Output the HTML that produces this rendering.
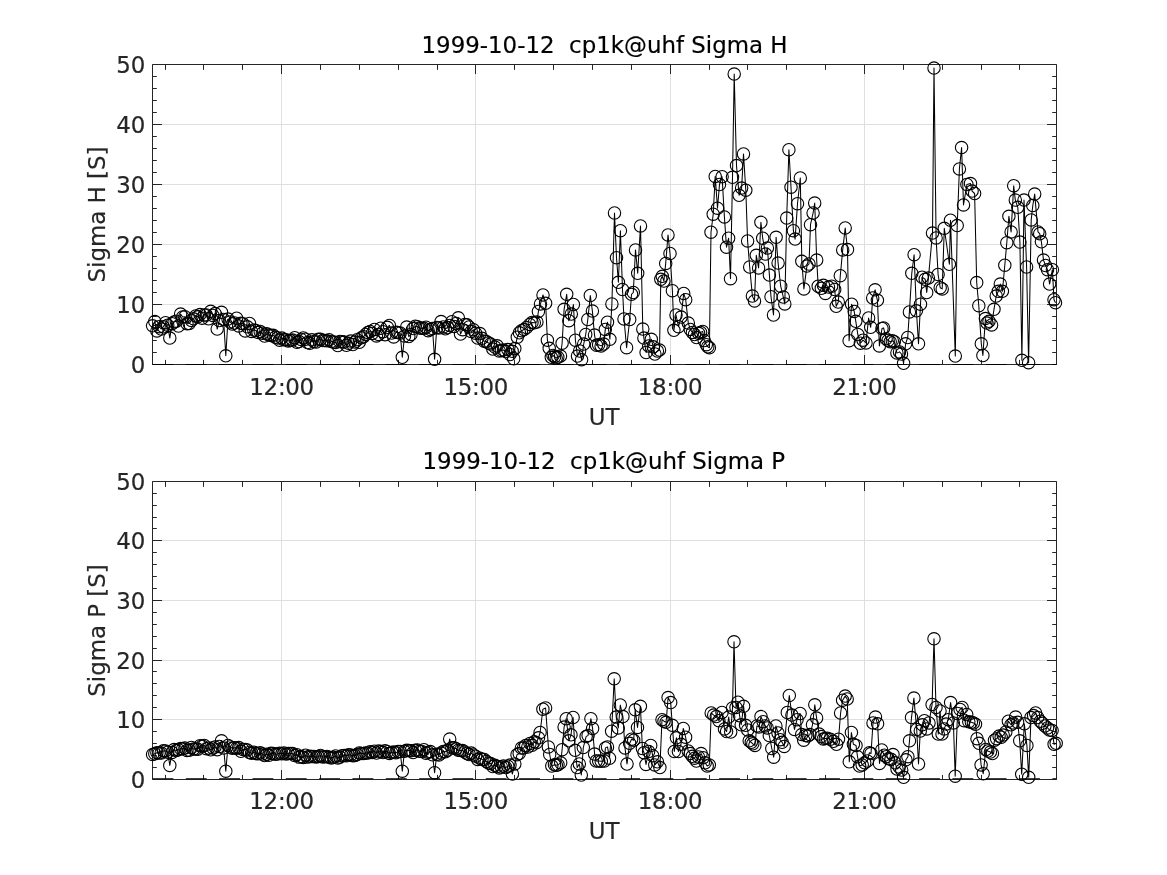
<!DOCTYPE html>
<html><head><meta charset="utf-8"><title>cp1k@uhf Sigma H / Sigma P</title>
<style>html,body{margin:0;padding:0;background:#fff}svg{display:block}text{font-family:"DejaVu Sans","Liberation Sans",sans-serif;fill:#262626;stroke:#262626;stroke-width:0.2px}</style></head>
<body>
<svg width="1167" height="875" viewBox="0 0 1167 875">
<rect width="1167" height="875" fill="#fff"/>
<g>
<path d="M281.5 64.5V364.5M475.5 64.5V364.5M670.5 64.5V364.5M864.5 64.5V364.5M152.5 304.5H1056.5M152.5 244.5H1056.5M152.5 184.5H1056.5M152.5 124.5H1056.5" stroke="#dfdfdf" stroke-width="1" fill="none"/>
<path d="M281.5 364.5v-9.5M281.5 64.5v9.5M475.5 364.5v-9.5M475.5 64.5v9.5M670.5 364.5v-9.5M670.5 64.5v9.5M864.5 364.5v-9.5M864.5 64.5v9.5M165.5 364.5v-4.6M165.5 64.5v5.4M203.5 364.5v-4.6M203.5 64.5v5.4M242.5 364.5v-4.6M242.5 64.5v5.4M320.5 364.5v-4.6M320.5 64.5v5.4M359.5 364.5v-4.6M359.5 64.5v5.4M398.5 364.5v-4.6M398.5 64.5v5.4M437.5 364.5v-4.6M437.5 64.5v5.4M514.5 364.5v-4.6M514.5 64.5v5.4M553.5 364.5v-4.6M553.5 64.5v5.4M592.5 364.5v-4.6M592.5 64.5v5.4M631.5 364.5v-4.6M631.5 64.5v5.4M709.5 364.5v-4.6M709.5 64.5v5.4M747.5 364.5v-4.6M747.5 64.5v5.4M786.5 364.5v-4.6M786.5 64.5v5.4M825.5 364.5v-4.6M825.5 64.5v5.4M903.5 364.5v-4.6M903.5 64.5v5.4M942.5 364.5v-4.6M942.5 64.5v5.4M981.5 364.5v-4.6M981.5 64.5v5.4M1019.5 364.5v-4.6M1019.5 64.5v5.4M152.5 364.5h9.5M1056.5 364.5h-9.5M152.5 352.5h4.3M1056.5 352.5h-4.3M152.5 340.5h4.3M1056.5 340.5h-4.3M152.5 328.5h4.3M1056.5 328.5h-4.3M152.5 316.5h4.3M1056.5 316.5h-4.3M152.5 304.5h9.5M1056.5 304.5h-9.5M152.5 292.5h4.3M1056.5 292.5h-4.3M152.5 280.5h4.3M1056.5 280.5h-4.3M152.5 268.5h4.3M1056.5 268.5h-4.3M152.5 256.5h4.3M1056.5 256.5h-4.3M152.5 244.5h9.5M1056.5 244.5h-9.5M152.5 232.5h4.3M1056.5 232.5h-4.3M152.5 220.5h4.3M1056.5 220.5h-4.3M152.5 208.5h4.3M1056.5 208.5h-4.3M152.5 196.5h4.3M1056.5 196.5h-4.3M152.5 184.5h9.5M1056.5 184.5h-9.5M152.5 172.5h4.3M1056.5 172.5h-4.3M152.5 160.5h4.3M1056.5 160.5h-4.3M152.5 148.5h4.3M1056.5 148.5h-4.3M152.5 136.5h4.3M1056.5 136.5h-4.3M152.5 124.5h9.5M1056.5 124.5h-9.5M152.5 112.5h4.3M1056.5 112.5h-4.3M152.5 100.5h4.3M1056.5 100.5h-4.3M152.5 88.5h4.3M1056.5 88.5h-4.3M152.5 76.5h4.3M1056.5 76.5h-4.3M152.5 64.5h9.5M1056.5 64.5h-9.5M152.5 64.5H1056.5V364.5H152.5Z" stroke="#262626" stroke-width="1" fill="none" stroke-linecap="butt"/>
<text x="145.3" y="373.0" font-size="22.9" text-anchor="end">0</text>
<text x="145.3" y="313.0" font-size="22.9" text-anchor="end">10</text>
<text x="145.3" y="253.0" font-size="22.9" text-anchor="end">20</text>
<text x="145.3" y="193.0" font-size="22.9" text-anchor="end">30</text>
<text x="145.3" y="133.0" font-size="22.9" text-anchor="end">40</text>
<text x="145.3" y="73.0" font-size="22.9" text-anchor="end">50</text>
<text x="281.6" y="394.6" font-size="22.9" text-anchor="middle" letter-spacing="-0.3">12:00</text>
<text x="475.8" y="394.6" font-size="22.9" text-anchor="middle" letter-spacing="-0.3">15:00</text>
<text x="670.1" y="394.6" font-size="22.9" text-anchor="middle" letter-spacing="-0.3">18:00</text>
<text x="864.4" y="394.6" font-size="22.9" text-anchor="middle" letter-spacing="-0.3">21:00</text>
<text x="604.2" y="424.6" font-size="22.9" text-anchor="middle">UT</text>
<text x="604.5" y="53.2" font-size="22.9" text-anchor="middle" xml:space="preserve" style="fill:#000;stroke:#000">1999-10-12  cp1k@uhf Sigma H</text>
<text transform="translate(104.8 214.5) rotate(-90)" font-size="22.9" text-anchor="middle">Sigma H [S]</text>
<path d="M152.5 364.6H1056.5" stroke="#000" stroke-width="1.04" stroke-dasharray="20.83 12.5" fill="none"/>
<polyline fill="none" stroke="#000" stroke-width="1.04" stroke-linejoin="round" points="152.6,325.8 154.8,321.6 156.9,330.9 159.1,326.7 161.2,329.0 163.4,326.8 165.5,322.7 167.7,325.2 169.8,338.1 172.0,323.7 174.1,321.9 176.3,321.2 178.4,326.0 180.6,314.1 182.7,317.0 184.9,316.7 187.0,323.7 189.2,323.6 191.4,320.4 193.5,318.8 195.7,315.9 197.8,316.8 200.0,314.6 202.1,318.2 204.3,315.0 206.4,315.0 208.6,318.8 210.7,311.3 212.9,315.4 215.0,313.6 217.2,329.1 219.3,320.6 221.5,312.3 223.6,319.4 225.8,355.8 228.0,319.1 230.1,321.9 232.3,324.0 234.4,323.0 236.6,318.2 238.7,325.9 240.9,323.3 243.0,323.7 245.2,330.9 247.3,326.8 249.5,323.5 251.6,331.4 253.8,330.0 255.9,330.6 258.1,332.4 260.2,331.5 262.4,333.2 264.6,336.0 266.7,333.8 268.9,334.9 271.0,335.5 273.2,335.3 275.3,337.2 277.5,337.9 279.6,340.2 281.8,338.1 283.9,339.8 286.1,339.7 288.2,340.9 290.4,340.6 292.5,340.1 294.7,337.7 296.9,342.3 299.0,341.6 301.2,339.4 303.3,337.9 305.5,339.2 307.6,342.6 309.8,343.3 311.9,339.8 314.1,341.4 316.2,342.0 318.4,339.3 320.5,339.2 322.7,340.6 324.8,340.6 327.0,340.8 329.1,339.7 331.3,341.4 333.5,342.0 335.6,342.4 337.8,345.6 339.9,341.5 342.1,341.8 344.2,342.1 346.4,345.3 348.5,343.3 350.7,341.1 352.8,344.5 355.0,341.9 357.1,339.7 359.3,342.3 361.4,337.8 363.6,336.7 365.7,334.5 367.9,332.6 370.1,331.4 372.2,333.4 374.4,329.4 376.5,335.9 378.7,334.4 380.8,328.2 383.0,331.7 385.1,334.7 387.3,327.3 389.4,325.4 391.6,333.1 393.7,336.9 395.9,332.2 398.0,332.4 400.2,333.0 402.3,357.3 404.5,336.1 406.7,327.1 408.8,336.6 411.0,334.4 413.1,328.6 415.3,326.2 417.4,326.7 419.6,328.1 421.7,328.2 423.9,328.2 426.0,327.2 428.2,330.7 430.3,329.5 432.5,328.6 434.6,359.3 436.8,327.4 438.9,327.9 441.1,321.6 443.3,327.0 445.4,328.8 447.6,327.5 449.7,325.5 451.9,321.7 454.0,326.4 456.2,323.5 458.3,317.8 460.5,334.1 462.6,329.7 464.8,324.5 466.9,324.8 469.1,326.9 471.2,331.6 473.4,329.7 475.6,333.2 477.7,338.1 479.9,333.6 482.0,338.3 484.2,341.2 486.3,341.5 488.5,343.0 490.6,343.9 492.8,349.1 494.9,347.1 497.1,345.8 499.2,351.1 501.4,350.5 503.5,350.0 505.7,351.6 507.8,349.6 510.0,354.5 512.2,351.3 513.7,358.7 514.8,348.6 517.3,337.2 519.4,332.8 521.5,330.7 524.0,329.6 526.6,327.4 529.7,324.4 532.0,322.4 534.3,322.8 536.9,322.1 538.4,311.4 540.5,303.9 543.0,294.9 545.6,303.3 547.4,340.2 549.2,348.3 551.3,357.3 553.0,355.5 554.6,356.7 556.2,357.9 557.8,357.3 560.5,356.1 562.1,343.2 564.1,309.3 566.7,294.3 568.8,320.7 571.3,314.1 573.4,304.5 575.4,340.2 577.5,356.1 579.6,351.0 581.6,359.7 583.7,344.1 585.7,334.5 587.8,319.5 590.3,295.5 592.4,311.1 594.5,335.1 596.5,345.3 598.6,344.7 601.1,345.9 603.7,344.1 605.3,329.4 607.5,322.2 609.9,339.3 611.9,303.9 614.5,213.0 616.5,257.7 618.4,282.3 620.4,230.7 622.5,289.5 624.0,318.9 626.6,347.7 629.7,319.5 631.5,294.3 633.3,292.5 635.5,249.9 637.7,273.3 640.5,225.9 642.8,329.1 643.9,338.1 646.1,352.5 648.7,345.9 651.3,339.3 653.3,346.8 654.9,354.0 657.4,351.0 659.5,350.1 660.8,279.3 662.3,276.3 663.9,281.1 665.7,263.4 668.0,234.9 670.0,253.5 672.4,290.7 673.9,330.3 676.0,315.0 678.5,326.7 681.1,317.1 683.7,293.4 685.7,299.7 688.3,323.1 690.3,329.4 692.4,332.4 694.5,334.5 696.5,337.5 698.6,333.3 700.6,332.4 702.7,331.5 704.2,340.5 706.3,344.7 707.8,346.8 709.4,347.7 711.0,232.2 713.2,214.2 715.2,176.4 717.5,208.2 719.5,184.5 722.1,176.7 724.4,216.9 726.5,247.2 728.6,238.2 730.5,278.7 732.5,177.3 734.2,74.1 736.5,165.6 739.1,195.3 741.6,188.1 743.5,153.9 745.8,190.2 747.6,240.9 749.7,267.0 752.4,296.1 754.5,300.9 756.3,255.3 758.6,267.9 760.9,222.3 762.7,238.2 765.6,254.1 767.4,248.1 769.4,275.1 771.0,296.7 773.5,315.0 776.1,237.3 778.1,263.1 780.7,286.2 783.3,297.0 784.8,303.9 786.7,218.1 788.9,149.7 791.0,187.2 793.4,230.7 795.1,239.1 797.5,203.7 800.3,177.9 801.8,261.3 803.9,288.9 806.9,266.1 809.0,264.0 810.5,224.7 813.1,213.0 814.7,203.1 816.7,260.1 818.2,286.2 821.3,288.3 823.4,285.3 825.4,293.4 828.5,287.1 831.6,286.2 834.7,289.5 836.2,306.3 838.3,302.1 840.3,275.7 842.7,249.9 845.2,228.0 847.5,249.6 849.1,340.7 851.6,304.2 854.2,311.4 855.8,321.3 857.8,334.5 860.4,343.2 863.0,340.2 866.0,342.9 868.6,318.0 870.7,327.3 872.7,297.9 875.1,289.8 877.4,300.3 879.4,345.9 882.0,328.5 883.6,327.9 886.1,338.7 888.1,340.5 890.2,341.7 892.3,340.7 894.3,341.7 896.9,353.1 899.5,351.9 901.5,354.0 903.6,363.3 905.6,343.8 907.7,337.5 909.4,311.9 911.8,273.3 914.1,254.7 916.4,310.8 918.5,343.8 920.5,304.2 922.1,277.2 925.2,279.3 926.7,292.5 928.4,278.1 932.5,233.1 934.0,68.1 936.1,237.9 938.1,274.5 940.2,287.7 942.2,288.9 944.3,228.3 949.4,264.3 950.5,220.2 955.3,356.1 957.2,225.6 959.4,168.9 961.6,147.6 963.5,204.9 966.9,184.5 970.5,183.6 972.1,191.1 974.6,193.5 976.7,282.6 978.8,305.7 981.3,343.8 982.9,355.5 985.4,318.6 987.0,323.1 989.0,321.3 991.6,324.9 994.0,309.3 996.2,296.1 998.3,291.3 1000.3,284.1 1002.4,291.3 1004.8,265.2 1006.8,242.7 1008.9,216.3 1011.1,231.9 1013.7,185.7 1015.3,200.1 1017.8,207.3 1019.9,242.1 1021.9,360.3 1024.0,200.1 1026.6,267.0 1028.6,362.7 1031.2,219.9 1032.8,205.5 1034.7,194.1 1038.0,231.9 1039.7,233.7 1041.4,241.8 1043.5,260.1 1045.5,265.5 1047.5,269.7 1049.6,284.1 1052.4,269.7 1054.0,299.7 1055.5,302.7"/>
<g fill="none" stroke="#000" stroke-width="1.1">
<circle cx="152.6" cy="325.8" r="6.2"/><circle cx="154.8" cy="321.6" r="6.2"/><circle cx="156.9" cy="330.9" r="6.2"/><circle cx="159.1" cy="326.7" r="6.2"/><circle cx="161.2" cy="329.0" r="6.2"/><circle cx="163.4" cy="326.8" r="6.2"/><circle cx="165.5" cy="322.7" r="6.2"/><circle cx="167.7" cy="325.2" r="6.2"/>
<circle cx="169.8" cy="338.1" r="6.2"/><circle cx="172.0" cy="323.7" r="6.2"/><circle cx="174.1" cy="321.9" r="6.2"/><circle cx="176.3" cy="321.2" r="6.2"/><circle cx="178.4" cy="326.0" r="6.2"/><circle cx="180.6" cy="314.1" r="6.2"/><circle cx="182.7" cy="317.0" r="6.2"/><circle cx="184.9" cy="316.7" r="6.2"/>
<circle cx="187.0" cy="323.7" r="6.2"/><circle cx="189.2" cy="323.6" r="6.2"/><circle cx="191.4" cy="320.4" r="6.2"/><circle cx="193.5" cy="318.8" r="6.2"/><circle cx="195.7" cy="315.9" r="6.2"/><circle cx="197.8" cy="316.8" r="6.2"/><circle cx="200.0" cy="314.6" r="6.2"/><circle cx="202.1" cy="318.2" r="6.2"/>
<circle cx="204.3" cy="315.0" r="6.2"/><circle cx="206.4" cy="315.0" r="6.2"/><circle cx="208.6" cy="318.8" r="6.2"/><circle cx="210.7" cy="311.3" r="6.2"/><circle cx="212.9" cy="315.4" r="6.2"/><circle cx="215.0" cy="313.6" r="6.2"/><circle cx="217.2" cy="329.1" r="6.2"/><circle cx="219.3" cy="320.6" r="6.2"/>
<circle cx="221.5" cy="312.3" r="6.2"/><circle cx="223.6" cy="319.4" r="6.2"/><circle cx="225.8" cy="355.8" r="6.2"/><circle cx="228.0" cy="319.1" r="6.2"/><circle cx="230.1" cy="321.9" r="6.2"/><circle cx="232.3" cy="324.0" r="6.2"/><circle cx="234.4" cy="323.0" r="6.2"/><circle cx="236.6" cy="318.2" r="6.2"/>
<circle cx="238.7" cy="325.9" r="6.2"/><circle cx="240.9" cy="323.3" r="6.2"/><circle cx="243.0" cy="323.7" r="6.2"/><circle cx="245.2" cy="330.9" r="6.2"/><circle cx="247.3" cy="326.8" r="6.2"/><circle cx="249.5" cy="323.5" r="6.2"/><circle cx="251.6" cy="331.4" r="6.2"/><circle cx="253.8" cy="330.0" r="6.2"/>
<circle cx="255.9" cy="330.6" r="6.2"/><circle cx="258.1" cy="332.4" r="6.2"/><circle cx="260.2" cy="331.5" r="6.2"/><circle cx="262.4" cy="333.2" r="6.2"/><circle cx="264.6" cy="336.0" r="6.2"/><circle cx="266.7" cy="333.8" r="6.2"/><circle cx="268.9" cy="334.9" r="6.2"/><circle cx="271.0" cy="335.5" r="6.2"/>
<circle cx="273.2" cy="335.3" r="6.2"/><circle cx="275.3" cy="337.2" r="6.2"/><circle cx="277.5" cy="337.9" r="6.2"/><circle cx="279.6" cy="340.2" r="6.2"/><circle cx="281.8" cy="338.1" r="6.2"/><circle cx="283.9" cy="339.8" r="6.2"/><circle cx="286.1" cy="339.7" r="6.2"/><circle cx="288.2" cy="340.9" r="6.2"/>
<circle cx="290.4" cy="340.6" r="6.2"/><circle cx="292.5" cy="340.1" r="6.2"/><circle cx="294.7" cy="337.7" r="6.2"/><circle cx="296.9" cy="342.3" r="6.2"/><circle cx="299.0" cy="341.6" r="6.2"/><circle cx="301.2" cy="339.4" r="6.2"/><circle cx="303.3" cy="337.9" r="6.2"/><circle cx="305.5" cy="339.2" r="6.2"/>
<circle cx="307.6" cy="342.6" r="6.2"/><circle cx="309.8" cy="343.3" r="6.2"/><circle cx="311.9" cy="339.8" r="6.2"/><circle cx="314.1" cy="341.4" r="6.2"/><circle cx="316.2" cy="342.0" r="6.2"/><circle cx="318.4" cy="339.3" r="6.2"/><circle cx="320.5" cy="339.2" r="6.2"/><circle cx="322.7" cy="340.6" r="6.2"/>
<circle cx="324.8" cy="340.6" r="6.2"/><circle cx="327.0" cy="340.8" r="6.2"/><circle cx="329.1" cy="339.7" r="6.2"/><circle cx="331.3" cy="341.4" r="6.2"/><circle cx="333.5" cy="342.0" r="6.2"/><circle cx="335.6" cy="342.4" r="6.2"/><circle cx="337.8" cy="345.6" r="6.2"/><circle cx="339.9" cy="341.5" r="6.2"/>
<circle cx="342.1" cy="341.8" r="6.2"/><circle cx="344.2" cy="342.1" r="6.2"/><circle cx="346.4" cy="345.3" r="6.2"/><circle cx="348.5" cy="343.3" r="6.2"/><circle cx="350.7" cy="341.1" r="6.2"/><circle cx="352.8" cy="344.5" r="6.2"/><circle cx="355.0" cy="341.9" r="6.2"/><circle cx="357.1" cy="339.7" r="6.2"/>
<circle cx="359.3" cy="342.3" r="6.2"/><circle cx="361.4" cy="337.8" r="6.2"/><circle cx="363.6" cy="336.7" r="6.2"/><circle cx="365.7" cy="334.5" r="6.2"/><circle cx="367.9" cy="332.6" r="6.2"/><circle cx="370.1" cy="331.4" r="6.2"/><circle cx="372.2" cy="333.4" r="6.2"/><circle cx="374.4" cy="329.4" r="6.2"/>
<circle cx="376.5" cy="335.9" r="6.2"/><circle cx="378.7" cy="334.4" r="6.2"/><circle cx="380.8" cy="328.2" r="6.2"/><circle cx="383.0" cy="331.7" r="6.2"/><circle cx="385.1" cy="334.7" r="6.2"/><circle cx="387.3" cy="327.3" r="6.2"/><circle cx="389.4" cy="325.4" r="6.2"/><circle cx="391.6" cy="333.1" r="6.2"/>
<circle cx="393.7" cy="336.9" r="6.2"/><circle cx="395.9" cy="332.2" r="6.2"/><circle cx="398.0" cy="332.4" r="6.2"/><circle cx="400.2" cy="333.0" r="6.2"/><circle cx="402.3" cy="357.3" r="6.2"/><circle cx="404.5" cy="336.1" r="6.2"/><circle cx="406.7" cy="327.1" r="6.2"/><circle cx="408.8" cy="336.6" r="6.2"/>
<circle cx="411.0" cy="334.4" r="6.2"/><circle cx="413.1" cy="328.6" r="6.2"/><circle cx="415.3" cy="326.2" r="6.2"/><circle cx="417.4" cy="326.7" r="6.2"/><circle cx="419.6" cy="328.1" r="6.2"/><circle cx="421.7" cy="328.2" r="6.2"/><circle cx="423.9" cy="328.2" r="6.2"/><circle cx="426.0" cy="327.2" r="6.2"/>
<circle cx="428.2" cy="330.7" r="6.2"/><circle cx="430.3" cy="329.5" r="6.2"/><circle cx="432.5" cy="328.6" r="6.2"/><circle cx="434.6" cy="359.3" r="6.2"/><circle cx="436.8" cy="327.4" r="6.2"/><circle cx="438.9" cy="327.9" r="6.2"/><circle cx="441.1" cy="321.6" r="6.2"/><circle cx="443.3" cy="327.0" r="6.2"/>
<circle cx="445.4" cy="328.8" r="6.2"/><circle cx="447.6" cy="327.5" r="6.2"/><circle cx="449.7" cy="325.5" r="6.2"/><circle cx="451.9" cy="321.7" r="6.2"/><circle cx="454.0" cy="326.4" r="6.2"/><circle cx="456.2" cy="323.5" r="6.2"/><circle cx="458.3" cy="317.8" r="6.2"/><circle cx="460.5" cy="334.1" r="6.2"/>
<circle cx="462.6" cy="329.7" r="6.2"/><circle cx="464.8" cy="324.5" r="6.2"/><circle cx="466.9" cy="324.8" r="6.2"/><circle cx="469.1" cy="326.9" r="6.2"/><circle cx="471.2" cy="331.6" r="6.2"/><circle cx="473.4" cy="329.7" r="6.2"/><circle cx="475.6" cy="333.2" r="6.2"/><circle cx="477.7" cy="338.1" r="6.2"/>
<circle cx="479.9" cy="333.6" r="6.2"/><circle cx="482.0" cy="338.3" r="6.2"/><circle cx="484.2" cy="341.2" r="6.2"/><circle cx="486.3" cy="341.5" r="6.2"/><circle cx="488.5" cy="343.0" r="6.2"/><circle cx="490.6" cy="343.9" r="6.2"/><circle cx="492.8" cy="349.1" r="6.2"/><circle cx="494.9" cy="347.1" r="6.2"/>
<circle cx="497.1" cy="345.8" r="6.2"/><circle cx="499.2" cy="351.1" r="6.2"/><circle cx="501.4" cy="350.5" r="6.2"/><circle cx="503.5" cy="350.0" r="6.2"/><circle cx="505.7" cy="351.6" r="6.2"/><circle cx="507.8" cy="349.6" r="6.2"/><circle cx="510.0" cy="354.5" r="6.2"/><circle cx="512.2" cy="351.3" r="6.2"/>
<circle cx="513.7" cy="358.7" r="6.2"/><circle cx="514.8" cy="348.6" r="6.2"/><circle cx="517.3" cy="337.2" r="6.2"/><circle cx="519.4" cy="332.8" r="6.2"/><circle cx="521.5" cy="330.7" r="6.2"/><circle cx="524.0" cy="329.6" r="6.2"/><circle cx="526.6" cy="327.4" r="6.2"/><circle cx="529.7" cy="324.4" r="6.2"/>
<circle cx="532.0" cy="322.4" r="6.2"/><circle cx="534.3" cy="322.8" r="6.2"/><circle cx="536.9" cy="322.1" r="6.2"/><circle cx="538.4" cy="311.4" r="6.2"/><circle cx="540.5" cy="303.9" r="6.2"/><circle cx="543.0" cy="294.9" r="6.2"/><circle cx="545.6" cy="303.3" r="6.2"/><circle cx="547.4" cy="340.2" r="6.2"/>
<circle cx="549.2" cy="348.3" r="6.2"/><circle cx="551.3" cy="357.3" r="6.2"/><circle cx="553.0" cy="355.5" r="6.2"/><circle cx="554.6" cy="356.7" r="6.2"/><circle cx="556.2" cy="357.9" r="6.2"/><circle cx="557.8" cy="357.3" r="6.2"/><circle cx="560.5" cy="356.1" r="6.2"/><circle cx="562.1" cy="343.2" r="6.2"/>
<circle cx="564.1" cy="309.3" r="6.2"/><circle cx="566.7" cy="294.3" r="6.2"/><circle cx="568.8" cy="320.7" r="6.2"/><circle cx="571.3" cy="314.1" r="6.2"/><circle cx="573.4" cy="304.5" r="6.2"/><circle cx="575.4" cy="340.2" r="6.2"/><circle cx="577.5" cy="356.1" r="6.2"/><circle cx="579.6" cy="351.0" r="6.2"/>
<circle cx="581.6" cy="359.7" r="6.2"/><circle cx="583.7" cy="344.1" r="6.2"/><circle cx="585.7" cy="334.5" r="6.2"/><circle cx="587.8" cy="319.5" r="6.2"/><circle cx="590.3" cy="295.5" r="6.2"/><circle cx="592.4" cy="311.1" r="6.2"/><circle cx="594.5" cy="335.1" r="6.2"/><circle cx="596.5" cy="345.3" r="6.2"/>
<circle cx="598.6" cy="344.7" r="6.2"/><circle cx="601.1" cy="345.9" r="6.2"/><circle cx="603.7" cy="344.1" r="6.2"/><circle cx="605.3" cy="329.4" r="6.2"/><circle cx="607.5" cy="322.2" r="6.2"/><circle cx="609.9" cy="339.3" r="6.2"/><circle cx="611.9" cy="303.9" r="6.2"/><circle cx="614.5" cy="213.0" r="6.2"/>
<circle cx="616.5" cy="257.7" r="6.2"/><circle cx="618.4" cy="282.3" r="6.2"/><circle cx="620.4" cy="230.7" r="6.2"/><circle cx="622.5" cy="289.5" r="6.2"/><circle cx="624.0" cy="318.9" r="6.2"/><circle cx="626.6" cy="347.7" r="6.2"/><circle cx="629.7" cy="319.5" r="6.2"/><circle cx="631.5" cy="294.3" r="6.2"/>
<circle cx="633.3" cy="292.5" r="6.2"/><circle cx="635.5" cy="249.9" r="6.2"/><circle cx="637.7" cy="273.3" r="6.2"/><circle cx="640.5" cy="225.9" r="6.2"/><circle cx="642.8" cy="329.1" r="6.2"/><circle cx="643.9" cy="338.1" r="6.2"/><circle cx="646.1" cy="352.5" r="6.2"/><circle cx="648.7" cy="345.9" r="6.2"/>
<circle cx="651.3" cy="339.3" r="6.2"/><circle cx="653.3" cy="346.8" r="6.2"/><circle cx="654.9" cy="354.0" r="6.2"/><circle cx="657.4" cy="351.0" r="6.2"/><circle cx="659.5" cy="350.1" r="6.2"/><circle cx="660.8" cy="279.3" r="6.2"/><circle cx="662.3" cy="276.3" r="6.2"/><circle cx="663.9" cy="281.1" r="6.2"/>
<circle cx="665.7" cy="263.4" r="6.2"/><circle cx="668.0" cy="234.9" r="6.2"/><circle cx="670.0" cy="253.5" r="6.2"/><circle cx="672.4" cy="290.7" r="6.2"/><circle cx="673.9" cy="330.3" r="6.2"/><circle cx="676.0" cy="315.0" r="6.2"/><circle cx="678.5" cy="326.7" r="6.2"/><circle cx="681.1" cy="317.1" r="6.2"/>
<circle cx="683.7" cy="293.4" r="6.2"/><circle cx="685.7" cy="299.7" r="6.2"/><circle cx="688.3" cy="323.1" r="6.2"/><circle cx="690.3" cy="329.4" r="6.2"/><circle cx="692.4" cy="332.4" r="6.2"/><circle cx="694.5" cy="334.5" r="6.2"/><circle cx="696.5" cy="337.5" r="6.2"/><circle cx="698.6" cy="333.3" r="6.2"/>
<circle cx="700.6" cy="332.4" r="6.2"/><circle cx="702.7" cy="331.5" r="6.2"/><circle cx="704.2" cy="340.5" r="6.2"/><circle cx="706.3" cy="344.7" r="6.2"/><circle cx="707.8" cy="346.8" r="6.2"/><circle cx="709.4" cy="347.7" r="6.2"/><circle cx="711.0" cy="232.2" r="6.2"/><circle cx="713.2" cy="214.2" r="6.2"/>
<circle cx="715.2" cy="176.4" r="6.2"/><circle cx="717.5" cy="208.2" r="6.2"/><circle cx="719.5" cy="184.5" r="6.2"/><circle cx="722.1" cy="176.7" r="6.2"/><circle cx="724.4" cy="216.9" r="6.2"/><circle cx="726.5" cy="247.2" r="6.2"/><circle cx="728.6" cy="238.2" r="6.2"/><circle cx="730.5" cy="278.7" r="6.2"/>
<circle cx="732.5" cy="177.3" r="6.2"/><circle cx="734.2" cy="74.1" r="6.2"/><circle cx="736.5" cy="165.6" r="6.2"/><circle cx="739.1" cy="195.3" r="6.2"/><circle cx="741.6" cy="188.1" r="6.2"/><circle cx="743.5" cy="153.9" r="6.2"/><circle cx="745.8" cy="190.2" r="6.2"/><circle cx="747.6" cy="240.9" r="6.2"/>
<circle cx="749.7" cy="267.0" r="6.2"/><circle cx="752.4" cy="296.1" r="6.2"/><circle cx="754.5" cy="300.9" r="6.2"/><circle cx="756.3" cy="255.3" r="6.2"/><circle cx="758.6" cy="267.9" r="6.2"/><circle cx="760.9" cy="222.3" r="6.2"/><circle cx="762.7" cy="238.2" r="6.2"/><circle cx="765.6" cy="254.1" r="6.2"/>
<circle cx="767.4" cy="248.1" r="6.2"/><circle cx="769.4" cy="275.1" r="6.2"/><circle cx="771.0" cy="296.7" r="6.2"/><circle cx="773.5" cy="315.0" r="6.2"/><circle cx="776.1" cy="237.3" r="6.2"/><circle cx="778.1" cy="263.1" r="6.2"/><circle cx="780.7" cy="286.2" r="6.2"/><circle cx="783.3" cy="297.0" r="6.2"/>
<circle cx="784.8" cy="303.9" r="6.2"/><circle cx="786.7" cy="218.1" r="6.2"/><circle cx="788.9" cy="149.7" r="6.2"/><circle cx="791.0" cy="187.2" r="6.2"/><circle cx="793.4" cy="230.7" r="6.2"/><circle cx="795.1" cy="239.1" r="6.2"/><circle cx="797.5" cy="203.7" r="6.2"/><circle cx="800.3" cy="177.9" r="6.2"/>
<circle cx="801.8" cy="261.3" r="6.2"/><circle cx="803.9" cy="288.9" r="6.2"/><circle cx="806.9" cy="266.1" r="6.2"/><circle cx="809.0" cy="264.0" r="6.2"/><circle cx="810.5" cy="224.7" r="6.2"/><circle cx="813.1" cy="213.0" r="6.2"/><circle cx="814.7" cy="203.1" r="6.2"/><circle cx="816.7" cy="260.1" r="6.2"/>
<circle cx="818.2" cy="286.2" r="6.2"/><circle cx="821.3" cy="288.3" r="6.2"/><circle cx="823.4" cy="285.3" r="6.2"/><circle cx="825.4" cy="293.4" r="6.2"/><circle cx="828.5" cy="287.1" r="6.2"/><circle cx="831.6" cy="286.2" r="6.2"/><circle cx="834.7" cy="289.5" r="6.2"/><circle cx="836.2" cy="306.3" r="6.2"/>
<circle cx="838.3" cy="302.1" r="6.2"/><circle cx="840.3" cy="275.7" r="6.2"/><circle cx="842.7" cy="249.9" r="6.2"/><circle cx="845.2" cy="228.0" r="6.2"/><circle cx="847.5" cy="249.6" r="6.2"/><circle cx="849.1" cy="340.7" r="6.2"/><circle cx="851.6" cy="304.2" r="6.2"/><circle cx="854.2" cy="311.4" r="6.2"/>
<circle cx="855.8" cy="321.3" r="6.2"/><circle cx="857.8" cy="334.5" r="6.2"/><circle cx="860.4" cy="343.2" r="6.2"/><circle cx="863.0" cy="340.2" r="6.2"/><circle cx="866.0" cy="342.9" r="6.2"/><circle cx="868.6" cy="318.0" r="6.2"/><circle cx="870.7" cy="327.3" r="6.2"/><circle cx="872.7" cy="297.9" r="6.2"/>
<circle cx="875.1" cy="289.8" r="6.2"/><circle cx="877.4" cy="300.3" r="6.2"/><circle cx="879.4" cy="345.9" r="6.2"/><circle cx="882.0" cy="328.5" r="6.2"/><circle cx="883.6" cy="327.9" r="6.2"/><circle cx="886.1" cy="338.7" r="6.2"/><circle cx="888.1" cy="340.5" r="6.2"/><circle cx="890.2" cy="341.7" r="6.2"/>
<circle cx="892.3" cy="340.7" r="6.2"/><circle cx="894.3" cy="341.7" r="6.2"/><circle cx="896.9" cy="353.1" r="6.2"/><circle cx="899.5" cy="351.9" r="6.2"/><circle cx="901.5" cy="354.0" r="6.2"/><circle cx="903.6" cy="363.3" r="6.2"/><circle cx="905.6" cy="343.8" r="6.2"/><circle cx="907.7" cy="337.5" r="6.2"/>
<circle cx="909.4" cy="311.9" r="6.2"/><circle cx="911.8" cy="273.3" r="6.2"/><circle cx="914.1" cy="254.7" r="6.2"/><circle cx="916.4" cy="310.8" r="6.2"/><circle cx="918.5" cy="343.8" r="6.2"/><circle cx="920.5" cy="304.2" r="6.2"/><circle cx="922.1" cy="277.2" r="6.2"/><circle cx="925.2" cy="279.3" r="6.2"/>
<circle cx="926.7" cy="292.5" r="6.2"/><circle cx="928.4" cy="278.1" r="6.2"/><circle cx="932.5" cy="233.1" r="6.2"/><circle cx="934.0" cy="68.1" r="6.2"/><circle cx="936.1" cy="237.9" r="6.2"/><circle cx="938.1" cy="274.5" r="6.2"/><circle cx="940.2" cy="287.7" r="6.2"/><circle cx="942.2" cy="288.9" r="6.2"/>
<circle cx="944.3" cy="228.3" r="6.2"/><circle cx="949.4" cy="264.3" r="6.2"/><circle cx="950.5" cy="220.2" r="6.2"/><circle cx="955.3" cy="356.1" r="6.2"/><circle cx="957.2" cy="225.6" r="6.2"/><circle cx="959.4" cy="168.9" r="6.2"/><circle cx="961.6" cy="147.6" r="6.2"/><circle cx="963.5" cy="204.9" r="6.2"/>
<circle cx="966.9" cy="184.5" r="6.2"/><circle cx="970.5" cy="183.6" r="6.2"/><circle cx="972.1" cy="191.1" r="6.2"/><circle cx="974.6" cy="193.5" r="6.2"/><circle cx="976.7" cy="282.6" r="6.2"/><circle cx="978.8" cy="305.7" r="6.2"/><circle cx="981.3" cy="343.8" r="6.2"/><circle cx="982.9" cy="355.5" r="6.2"/>
<circle cx="985.4" cy="318.6" r="6.2"/><circle cx="987.0" cy="323.1" r="6.2"/><circle cx="989.0" cy="321.3" r="6.2"/><circle cx="991.6" cy="324.9" r="6.2"/><circle cx="994.0" cy="309.3" r="6.2"/><circle cx="996.2" cy="296.1" r="6.2"/><circle cx="998.3" cy="291.3" r="6.2"/><circle cx="1000.3" cy="284.1" r="6.2"/>
<circle cx="1002.4" cy="291.3" r="6.2"/><circle cx="1004.8" cy="265.2" r="6.2"/><circle cx="1006.8" cy="242.7" r="6.2"/><circle cx="1008.9" cy="216.3" r="6.2"/><circle cx="1011.1" cy="231.9" r="6.2"/><circle cx="1013.7" cy="185.7" r="6.2"/><circle cx="1015.3" cy="200.1" r="6.2"/><circle cx="1017.8" cy="207.3" r="6.2"/>
<circle cx="1019.9" cy="242.1" r="6.2"/><circle cx="1021.9" cy="360.3" r="6.2"/><circle cx="1024.0" cy="200.1" r="6.2"/><circle cx="1026.6" cy="267.0" r="6.2"/><circle cx="1028.6" cy="362.7" r="6.2"/><circle cx="1031.2" cy="219.9" r="6.2"/><circle cx="1032.8" cy="205.5" r="6.2"/><circle cx="1034.7" cy="194.1" r="6.2"/>
<circle cx="1038.0" cy="231.9" r="6.2"/><circle cx="1039.7" cy="233.7" r="6.2"/><circle cx="1041.4" cy="241.8" r="6.2"/><circle cx="1043.5" cy="260.1" r="6.2"/><circle cx="1045.5" cy="265.5" r="6.2"/><circle cx="1047.5" cy="269.7" r="6.2"/><circle cx="1049.6" cy="284.1" r="6.2"/><circle cx="1052.4" cy="269.7" r="6.2"/>
<circle cx="1054.0" cy="299.7" r="6.2"/><circle cx="1055.5" cy="302.7" r="6.2"/>
</g>
</g>
<g>
<path d="M281.5 481.5V779.5M475.5 481.5V779.5M670.5 481.5V779.5M864.5 481.5V779.5M152.5 719.5H1056.5M152.5 660.5H1056.5M152.5 600.5H1056.5M152.5 540.5H1056.5" stroke="#dfdfdf" stroke-width="1" fill="none"/>
<path d="M281.5 779.5v-9.5M281.5 481.5v9.5M475.5 779.5v-9.5M475.5 481.5v9.5M670.5 779.5v-9.5M670.5 481.5v9.5M864.5 779.5v-9.5M864.5 481.5v9.5M165.5 779.5v-4.6M165.5 481.5v5.4M203.5 779.5v-4.6M203.5 481.5v5.4M242.5 779.5v-4.6M242.5 481.5v5.4M320.5 779.5v-4.6M320.5 481.5v5.4M359.5 779.5v-4.6M359.5 481.5v5.4M398.5 779.5v-4.6M398.5 481.5v5.4M437.5 779.5v-4.6M437.5 481.5v5.4M514.5 779.5v-4.6M514.5 481.5v5.4M553.5 779.5v-4.6M553.5 481.5v5.4M592.5 779.5v-4.6M592.5 481.5v5.4M631.5 779.5v-4.6M631.5 481.5v5.4M709.5 779.5v-4.6M709.5 481.5v5.4M747.5 779.5v-4.6M747.5 481.5v5.4M786.5 779.5v-4.6M786.5 481.5v5.4M825.5 779.5v-4.6M825.5 481.5v5.4M903.5 779.5v-4.6M903.5 481.5v5.4M942.5 779.5v-4.6M942.5 481.5v5.4M981.5 779.5v-4.6M981.5 481.5v5.4M1019.5 779.5v-4.6M1019.5 481.5v5.4M152.5 779.5h9.5M1056.5 779.5h-9.5M152.5 767.5h4.3M1056.5 767.5h-4.3M152.5 755.5h4.3M1056.5 755.5h-4.3M152.5 743.5h4.3M1056.5 743.5h-4.3M152.5 731.5h4.3M1056.5 731.5h-4.3M152.5 719.5h9.5M1056.5 719.5h-9.5M152.5 707.5h4.3M1056.5 707.5h-4.3M152.5 695.5h4.3M1056.5 695.5h-4.3M152.5 683.5h4.3M1056.5 683.5h-4.3M152.5 671.5h4.3M1056.5 671.5h-4.3M152.5 660.5h9.5M1056.5 660.5h-9.5M152.5 648.5h4.3M1056.5 648.5h-4.3M152.5 636.5h4.3M1056.5 636.5h-4.3M152.5 624.5h4.3M1056.5 624.5h-4.3M152.5 612.5h4.3M1056.5 612.5h-4.3M152.5 600.5h9.5M1056.5 600.5h-9.5M152.5 588.5h4.3M1056.5 588.5h-4.3M152.5 576.5h4.3M1056.5 576.5h-4.3M152.5 564.5h4.3M1056.5 564.5h-4.3M152.5 552.5h4.3M1056.5 552.5h-4.3M152.5 540.5h9.5M1056.5 540.5h-9.5M152.5 528.5h4.3M1056.5 528.5h-4.3M152.5 517.5h4.3M1056.5 517.5h-4.3M152.5 505.5h4.3M1056.5 505.5h-4.3M152.5 493.5h4.3M1056.5 493.5h-4.3M152.5 481.5h9.5M1056.5 481.5h-9.5M152.5 481.5H1056.5V779.5H152.5Z" stroke="#262626" stroke-width="1" fill="none" stroke-linecap="butt"/>
<text x="145.3" y="788.0" font-size="22.9" text-anchor="end">0</text>
<text x="145.3" y="728.0" font-size="22.9" text-anchor="end">10</text>
<text x="145.3" y="669.0" font-size="22.9" text-anchor="end">20</text>
<text x="145.3" y="609.0" font-size="22.9" text-anchor="end">30</text>
<text x="145.3" y="549.0" font-size="22.9" text-anchor="end">40</text>
<text x="145.3" y="490.0" font-size="22.9" text-anchor="end">50</text>
<text x="281.6" y="808.6" font-size="22.9" text-anchor="middle" letter-spacing="-0.3">12:00</text>
<text x="475.8" y="808.6" font-size="22.9" text-anchor="middle" letter-spacing="-0.3">15:00</text>
<text x="670.1" y="808.6" font-size="22.9" text-anchor="middle" letter-spacing="-0.3">18:00</text>
<text x="864.4" y="808.6" font-size="22.9" text-anchor="middle" letter-spacing="-0.3">21:00</text>
<text x="604.2" y="838.5" font-size="22.9" text-anchor="middle">UT</text>
<text x="603.8" y="468.6" font-size="22.9" text-anchor="middle" xml:space="preserve" style="fill:#000;stroke:#000">1999-10-12  cp1k@uhf Sigma P</text>
<text transform="translate(104.8 630.5) rotate(-90)" font-size="22.9" text-anchor="middle">Sigma P [S]</text>
<path d="M152.5 778.7H1056.5" stroke="#000" stroke-width="1.04" stroke-dasharray="20.83 12.5" fill="none"/>
<polyline fill="none" stroke="#000" stroke-width="1.04" stroke-linejoin="round" points="152.6,754.5 154.8,753.8 156.9,752.7 159.1,753.1 161.2,753.1 163.4,750.8 165.5,751.0 167.7,752.2 169.8,765.4 172.0,752.4 174.1,749.6 176.3,750.6 178.4,749.7 180.6,748.6 182.7,748.8 184.9,748.1 187.0,750.4 189.2,750.2 191.4,747.4 193.5,749.1 195.7,748.9 197.8,749.2 200.0,745.7 202.1,746.1 204.3,745.4 206.4,748.7 208.6,748.0 210.7,749.8 212.9,748.0 215.0,747.0 217.2,749.7 219.3,746.5 221.5,740.8 223.6,748.0 225.8,771.2 228.0,745.5 230.1,747.0 232.3,748.2 234.4,747.7 236.6,748.3 238.7,747.6 240.9,751.3 243.0,749.4 245.2,749.5 247.3,750.0 249.5,752.4 251.6,753.2 253.8,752.3 255.9,753.4 258.1,753.8 260.2,752.8 262.4,754.1 264.6,755.6 266.7,754.2 268.9,755.3 271.0,753.3 273.2,753.6 275.3,754.3 277.5,753.9 279.6,753.3 281.8,753.8 283.9,752.9 286.1,754.0 288.2,753.5 290.4,753.4 292.5,753.6 294.7,755.6 296.9,754.7 299.0,757.1 301.2,756.6 303.3,757.4 305.5,755.2 307.6,757.1 309.8,756.3 311.9,756.5 314.1,756.5 316.2,757.0 318.4,756.5 320.5,755.5 322.7,756.9 324.8,756.7 327.0,756.4 329.1,757.3 331.3,758.0 333.5,757.3 335.6,756.0 337.8,757.9 339.9,757.1 342.1,755.7 344.2,755.5 346.4,755.8 348.5,754.8 350.7,755.0 352.8,755.7 355.0,755.6 357.1,754.5 359.3,752.9 361.4,753.6 363.6,753.4 365.7,752.9 367.9,753.0 370.1,751.7 372.2,752.4 374.4,751.2 376.5,753.0 378.7,751.0 380.8,751.6 383.0,752.5 385.1,750.8 387.3,751.7 389.4,753.4 391.6,752.6 393.7,751.9 395.9,752.7 398.0,751.6 400.2,751.4 402.3,771.2 404.5,751.3 406.7,750.3 408.8,750.6 411.0,750.7 413.1,752.6 415.3,750.3 417.4,750.0 419.6,751.2 421.7,751.4 423.9,749.7 426.0,753.2 428.2,752.2 430.3,751.6 432.5,754.8 434.6,772.7 436.8,754.3 438.9,754.9 441.1,753.1 443.3,751.5 445.4,751.8 447.6,750.3 449.7,739.1 451.9,747.8 454.0,747.8 456.2,748.7 458.3,750.2 460.5,750.6 462.6,750.5 464.8,752.0 466.9,753.5 469.1,754.5 471.2,753.1 473.4,754.9 475.6,756.2 477.7,759.4 479.9,758.2 482.0,759.3 484.2,759.5 486.3,761.5 488.5,762.9 490.6,763.6 492.8,766.5 494.9,765.3 497.1,766.5 499.2,767.9 501.4,767.1 503.5,766.1 505.7,767.6 507.8,766.2 510.0,765.1 512.4,774.0 514.8,763.9 517.0,754.7 519.2,753.6 521.4,748.1 523.5,748.0 525.7,745.6 527.8,747.0 530.0,743.4 532.1,745.3 534.3,741.8 536.4,742.7 538.5,737.8 540.1,732.5 542.9,709.2 545.6,708.0 548.4,746.9 549.7,754.5 551.8,766.1 554.5,764.8 556.3,765.2 558.0,764.8 560.7,762.8 562.1,749.7 564.1,727.1 566.2,718.7 568.9,740.8 571.0,734.8 573.1,717.5 575.1,750.3 577.2,767.6 579.3,764.0 581.3,775.0 583.3,747.6 586.1,736.6 588.1,735.4 590.9,718.7 592.6,728.4 594.6,754.1 596.2,761.0 598.7,761.0 601.3,761.3 604.4,761.0 605.4,747.9 607.5,746.9 609.5,758.2 611.6,731.2 614.2,678.8 616.2,717.1 618.3,727.9 620.3,705.0 622.9,716.6 625.0,747.9 627.0,764.0 629.6,743.3 631.6,739.2 633.7,740.2 635.2,709.8 637.5,727.4 640.4,706.3 642.4,748.5 644.0,752.7 646.0,764.4 648.6,751.5 650.7,745.5 652.7,755.7 654.8,764.9 657.4,761.8 659.9,767.6 662.0,719.7 664.0,721.2 666.1,722.3 668.1,697.6 670.7,702.6 672.3,725.3 674.3,751.5 676.4,737.8 678.4,751.5 681.0,744.3 683.3,728.4 685.6,737.2 688.2,751.0 690.3,753.6 692.3,756.3 694.4,758.2 696.4,761.0 698.5,756.9 701.1,753.6 703.1,757.7 705.2,762.8 707.2,766.0 709.3,764.9 711.2,713.0 713.7,715.1 716.3,716.6 718.9,720.7 722.0,712.5 724.5,728.9 726.6,731.5 728.7,717.1 730.7,732.0 732.5,708.0 734.0,641.8 736.0,707.4 738.0,702.2 739.6,715.7 741.2,724.8 743.6,706.3 745.6,725.3 747.7,730.0 749.2,740.8 751.3,742.3 752.8,743.8 754.9,745.4 756.9,725.9 759.0,726.9 761.0,716.6 763.1,721.7 765.2,725.9 767.2,727.9 769.3,735.6 771.8,748.5 773.7,757.2 775.9,725.9 778.0,733.0 780.1,739.7 782.1,742.3 784.2,746.4 787.3,712.5 789.3,695.5 791.9,715.1 794.5,729.4 797.0,719.7 800.1,713.5 801.7,734.6 803.7,740.2 805.8,735.6 807.8,736.1 809.9,734.6 812.5,724.8 814.8,704.8 816.6,718.1 819.1,734.1 821.2,736.6 823.3,739.0 825.3,738.4 827.2,738.2 830.3,739.2 833.4,741.3 836.5,744.3 838.5,739.2 840.6,713.0 842.6,700.2 845.2,696.1 847.2,699.0 849.3,761.8 851.4,732.5 853.4,744.3 856.0,745.4 857.5,756.7 859.6,766.0 862.2,764.9 864.7,762.8 867.3,761.0 869.4,752.7 871.0,753.6 873.0,722.9 875.5,717.1 877.6,723.8 879.5,763.4 881.7,750.0 884.3,755.2 886.3,756.7 888.4,758.8 891.0,759.2 893.0,754.6 895.1,762.8 897.0,769.0 899.2,767.0 901.7,770.1 903.6,777.3 905.9,759.8 907.9,756.7 909.5,740.8 911.5,717.6 913.9,698.1 916.7,729.4 918.5,764.0 920.3,731.0 922.3,724.8 924.4,720.7 926.9,728.9 929.0,722.9 932.1,704.4 934.0,638.8 936.0,707.4 938.3,734.1 940.0,711.0 942.0,734.1 944.1,728.9 946.2,724.1 948.2,719.7 950.6,702.6 953.4,722.9 955.2,776.2 957.5,713.5 960.1,709.4 962.1,707.4 964.2,720.7 966.7,714.5 968.8,721.7 971.4,722.3 973.4,722.9 975.5,724.3 977.0,738.7 979.0,743.3 981.1,764.9 983.2,773.7 985.8,749.5 987.8,751.0 990.4,752.1 992.4,753.6 994.5,740.2 996.6,738.7 999.1,736.1 1001.2,737.2 1003.2,735.1 1005.8,732.0 1008.4,721.2 1011.0,724.8 1013.0,722.9 1015.6,717.1 1017.6,722.3 1019.7,740.8 1021.7,774.2 1024.3,723.8 1026.9,745.4 1028.7,777.3 1031.0,717.6 1033.6,715.6 1035.6,713.0 1037.7,717.6 1040.3,721.2 1042.3,723.3 1044.9,725.9 1047.5,727.9 1049.5,730.0 1052.1,730.6 1054.1,744.3 1056.2,743.3"/>
<g fill="none" stroke="#000" stroke-width="1.1">
<circle cx="152.6" cy="754.5" r="6.2"/><circle cx="154.8" cy="753.8" r="6.2"/><circle cx="156.9" cy="752.7" r="6.2"/><circle cx="159.1" cy="753.1" r="6.2"/><circle cx="161.2" cy="753.1" r="6.2"/><circle cx="163.4" cy="750.8" r="6.2"/><circle cx="165.5" cy="751.0" r="6.2"/><circle cx="167.7" cy="752.2" r="6.2"/>
<circle cx="169.8" cy="765.4" r="6.2"/><circle cx="172.0" cy="752.4" r="6.2"/><circle cx="174.1" cy="749.6" r="6.2"/><circle cx="176.3" cy="750.6" r="6.2"/><circle cx="178.4" cy="749.7" r="6.2"/><circle cx="180.6" cy="748.6" r="6.2"/><circle cx="182.7" cy="748.8" r="6.2"/><circle cx="184.9" cy="748.1" r="6.2"/>
<circle cx="187.0" cy="750.4" r="6.2"/><circle cx="189.2" cy="750.2" r="6.2"/><circle cx="191.4" cy="747.4" r="6.2"/><circle cx="193.5" cy="749.1" r="6.2"/><circle cx="195.7" cy="748.9" r="6.2"/><circle cx="197.8" cy="749.2" r="6.2"/><circle cx="200.0" cy="745.7" r="6.2"/><circle cx="202.1" cy="746.1" r="6.2"/>
<circle cx="204.3" cy="745.4" r="6.2"/><circle cx="206.4" cy="748.7" r="6.2"/><circle cx="208.6" cy="748.0" r="6.2"/><circle cx="210.7" cy="749.8" r="6.2"/><circle cx="212.9" cy="748.0" r="6.2"/><circle cx="215.0" cy="747.0" r="6.2"/><circle cx="217.2" cy="749.7" r="6.2"/><circle cx="219.3" cy="746.5" r="6.2"/>
<circle cx="221.5" cy="740.8" r="6.2"/><circle cx="223.6" cy="748.0" r="6.2"/><circle cx="225.8" cy="771.2" r="6.2"/><circle cx="228.0" cy="745.5" r="6.2"/><circle cx="230.1" cy="747.0" r="6.2"/><circle cx="232.3" cy="748.2" r="6.2"/><circle cx="234.4" cy="747.7" r="6.2"/><circle cx="236.6" cy="748.3" r="6.2"/>
<circle cx="238.7" cy="747.6" r="6.2"/><circle cx="240.9" cy="751.3" r="6.2"/><circle cx="243.0" cy="749.4" r="6.2"/><circle cx="245.2" cy="749.5" r="6.2"/><circle cx="247.3" cy="750.0" r="6.2"/><circle cx="249.5" cy="752.4" r="6.2"/><circle cx="251.6" cy="753.2" r="6.2"/><circle cx="253.8" cy="752.3" r="6.2"/>
<circle cx="255.9" cy="753.4" r="6.2"/><circle cx="258.1" cy="753.8" r="6.2"/><circle cx="260.2" cy="752.8" r="6.2"/><circle cx="262.4" cy="754.1" r="6.2"/><circle cx="264.6" cy="755.6" r="6.2"/><circle cx="266.7" cy="754.2" r="6.2"/><circle cx="268.9" cy="755.3" r="6.2"/><circle cx="271.0" cy="753.3" r="6.2"/>
<circle cx="273.2" cy="753.6" r="6.2"/><circle cx="275.3" cy="754.3" r="6.2"/><circle cx="277.5" cy="753.9" r="6.2"/><circle cx="279.6" cy="753.3" r="6.2"/><circle cx="281.8" cy="753.8" r="6.2"/><circle cx="283.9" cy="752.9" r="6.2"/><circle cx="286.1" cy="754.0" r="6.2"/><circle cx="288.2" cy="753.5" r="6.2"/>
<circle cx="290.4" cy="753.4" r="6.2"/><circle cx="292.5" cy="753.6" r="6.2"/><circle cx="294.7" cy="755.6" r="6.2"/><circle cx="296.9" cy="754.7" r="6.2"/><circle cx="299.0" cy="757.1" r="6.2"/><circle cx="301.2" cy="756.6" r="6.2"/><circle cx="303.3" cy="757.4" r="6.2"/><circle cx="305.5" cy="755.2" r="6.2"/>
<circle cx="307.6" cy="757.1" r="6.2"/><circle cx="309.8" cy="756.3" r="6.2"/><circle cx="311.9" cy="756.5" r="6.2"/><circle cx="314.1" cy="756.5" r="6.2"/><circle cx="316.2" cy="757.0" r="6.2"/><circle cx="318.4" cy="756.5" r="6.2"/><circle cx="320.5" cy="755.5" r="6.2"/><circle cx="322.7" cy="756.9" r="6.2"/>
<circle cx="324.8" cy="756.7" r="6.2"/><circle cx="327.0" cy="756.4" r="6.2"/><circle cx="329.1" cy="757.3" r="6.2"/><circle cx="331.3" cy="758.0" r="6.2"/><circle cx="333.5" cy="757.3" r="6.2"/><circle cx="335.6" cy="756.0" r="6.2"/><circle cx="337.8" cy="757.9" r="6.2"/><circle cx="339.9" cy="757.1" r="6.2"/>
<circle cx="342.1" cy="755.7" r="6.2"/><circle cx="344.2" cy="755.5" r="6.2"/><circle cx="346.4" cy="755.8" r="6.2"/><circle cx="348.5" cy="754.8" r="6.2"/><circle cx="350.7" cy="755.0" r="6.2"/><circle cx="352.8" cy="755.7" r="6.2"/><circle cx="355.0" cy="755.6" r="6.2"/><circle cx="357.1" cy="754.5" r="6.2"/>
<circle cx="359.3" cy="752.9" r="6.2"/><circle cx="361.4" cy="753.6" r="6.2"/><circle cx="363.6" cy="753.4" r="6.2"/><circle cx="365.7" cy="752.9" r="6.2"/><circle cx="367.9" cy="753.0" r="6.2"/><circle cx="370.1" cy="751.7" r="6.2"/><circle cx="372.2" cy="752.4" r="6.2"/><circle cx="374.4" cy="751.2" r="6.2"/>
<circle cx="376.5" cy="753.0" r="6.2"/><circle cx="378.7" cy="751.0" r="6.2"/><circle cx="380.8" cy="751.6" r="6.2"/><circle cx="383.0" cy="752.5" r="6.2"/><circle cx="385.1" cy="750.8" r="6.2"/><circle cx="387.3" cy="751.7" r="6.2"/><circle cx="389.4" cy="753.4" r="6.2"/><circle cx="391.6" cy="752.6" r="6.2"/>
<circle cx="393.7" cy="751.9" r="6.2"/><circle cx="395.9" cy="752.7" r="6.2"/><circle cx="398.0" cy="751.6" r="6.2"/><circle cx="400.2" cy="751.4" r="6.2"/><circle cx="402.3" cy="771.2" r="6.2"/><circle cx="404.5" cy="751.3" r="6.2"/><circle cx="406.7" cy="750.3" r="6.2"/><circle cx="408.8" cy="750.6" r="6.2"/>
<circle cx="411.0" cy="750.7" r="6.2"/><circle cx="413.1" cy="752.6" r="6.2"/><circle cx="415.3" cy="750.3" r="6.2"/><circle cx="417.4" cy="750.0" r="6.2"/><circle cx="419.6" cy="751.2" r="6.2"/><circle cx="421.7" cy="751.4" r="6.2"/><circle cx="423.9" cy="749.7" r="6.2"/><circle cx="426.0" cy="753.2" r="6.2"/>
<circle cx="428.2" cy="752.2" r="6.2"/><circle cx="430.3" cy="751.6" r="6.2"/><circle cx="432.5" cy="754.8" r="6.2"/><circle cx="434.6" cy="772.7" r="6.2"/><circle cx="436.8" cy="754.3" r="6.2"/><circle cx="438.9" cy="754.9" r="6.2"/><circle cx="441.1" cy="753.1" r="6.2"/><circle cx="443.3" cy="751.5" r="6.2"/>
<circle cx="445.4" cy="751.8" r="6.2"/><circle cx="447.6" cy="750.3" r="6.2"/><circle cx="449.7" cy="739.1" r="6.2"/><circle cx="451.9" cy="747.8" r="6.2"/><circle cx="454.0" cy="747.8" r="6.2"/><circle cx="456.2" cy="748.7" r="6.2"/><circle cx="458.3" cy="750.2" r="6.2"/><circle cx="460.5" cy="750.6" r="6.2"/>
<circle cx="462.6" cy="750.5" r="6.2"/><circle cx="464.8" cy="752.0" r="6.2"/><circle cx="466.9" cy="753.5" r="6.2"/><circle cx="469.1" cy="754.5" r="6.2"/><circle cx="471.2" cy="753.1" r="6.2"/><circle cx="473.4" cy="754.9" r="6.2"/><circle cx="475.6" cy="756.2" r="6.2"/><circle cx="477.7" cy="759.4" r="6.2"/>
<circle cx="479.9" cy="758.2" r="6.2"/><circle cx="482.0" cy="759.3" r="6.2"/><circle cx="484.2" cy="759.5" r="6.2"/><circle cx="486.3" cy="761.5" r="6.2"/><circle cx="488.5" cy="762.9" r="6.2"/><circle cx="490.6" cy="763.6" r="6.2"/><circle cx="492.8" cy="766.5" r="6.2"/><circle cx="494.9" cy="765.3" r="6.2"/>
<circle cx="497.1" cy="766.5" r="6.2"/><circle cx="499.2" cy="767.9" r="6.2"/><circle cx="501.4" cy="767.1" r="6.2"/><circle cx="503.5" cy="766.1" r="6.2"/><circle cx="505.7" cy="767.6" r="6.2"/><circle cx="507.8" cy="766.2" r="6.2"/><circle cx="510.0" cy="765.1" r="6.2"/><circle cx="512.4" cy="774.0" r="6.2"/>
<circle cx="514.8" cy="763.9" r="6.2"/><circle cx="517.0" cy="754.7" r="6.2"/><circle cx="519.2" cy="753.6" r="6.2"/><circle cx="521.4" cy="748.1" r="6.2"/><circle cx="523.5" cy="748.0" r="6.2"/><circle cx="525.7" cy="745.6" r="6.2"/><circle cx="527.8" cy="747.0" r="6.2"/><circle cx="530.0" cy="743.4" r="6.2"/>
<circle cx="532.1" cy="745.3" r="6.2"/><circle cx="534.3" cy="741.8" r="6.2"/><circle cx="536.4" cy="742.7" r="6.2"/><circle cx="538.5" cy="737.8" r="6.2"/><circle cx="540.1" cy="732.5" r="6.2"/><circle cx="542.9" cy="709.2" r="6.2"/><circle cx="545.6" cy="708.0" r="6.2"/><circle cx="548.4" cy="746.9" r="6.2"/>
<circle cx="549.7" cy="754.5" r="6.2"/><circle cx="551.8" cy="766.1" r="6.2"/><circle cx="554.5" cy="764.8" r="6.2"/><circle cx="556.3" cy="765.2" r="6.2"/><circle cx="558.0" cy="764.8" r="6.2"/><circle cx="560.7" cy="762.8" r="6.2"/><circle cx="562.1" cy="749.7" r="6.2"/><circle cx="564.1" cy="727.1" r="6.2"/>
<circle cx="566.2" cy="718.7" r="6.2"/><circle cx="568.9" cy="740.8" r="6.2"/><circle cx="571.0" cy="734.8" r="6.2"/><circle cx="573.1" cy="717.5" r="6.2"/><circle cx="575.1" cy="750.3" r="6.2"/><circle cx="577.2" cy="767.6" r="6.2"/><circle cx="579.3" cy="764.0" r="6.2"/><circle cx="581.3" cy="775.0" r="6.2"/>
<circle cx="583.3" cy="747.6" r="6.2"/><circle cx="586.1" cy="736.6" r="6.2"/><circle cx="588.1" cy="735.4" r="6.2"/><circle cx="590.9" cy="718.7" r="6.2"/><circle cx="592.6" cy="728.4" r="6.2"/><circle cx="594.6" cy="754.1" r="6.2"/><circle cx="596.2" cy="761.0" r="6.2"/><circle cx="598.7" cy="761.0" r="6.2"/>
<circle cx="601.3" cy="761.3" r="6.2"/><circle cx="604.4" cy="761.0" r="6.2"/><circle cx="605.4" cy="747.9" r="6.2"/><circle cx="607.5" cy="746.9" r="6.2"/><circle cx="609.5" cy="758.2" r="6.2"/><circle cx="611.6" cy="731.2" r="6.2"/><circle cx="614.2" cy="678.8" r="6.2"/><circle cx="616.2" cy="717.1" r="6.2"/>
<circle cx="618.3" cy="727.9" r="6.2"/><circle cx="620.3" cy="705.0" r="6.2"/><circle cx="622.9" cy="716.6" r="6.2"/><circle cx="625.0" cy="747.9" r="6.2"/><circle cx="627.0" cy="764.0" r="6.2"/><circle cx="629.6" cy="743.3" r="6.2"/><circle cx="631.6" cy="739.2" r="6.2"/><circle cx="633.7" cy="740.2" r="6.2"/>
<circle cx="635.2" cy="709.8" r="6.2"/><circle cx="637.5" cy="727.4" r="6.2"/><circle cx="640.4" cy="706.3" r="6.2"/><circle cx="642.4" cy="748.5" r="6.2"/><circle cx="644.0" cy="752.7" r="6.2"/><circle cx="646.0" cy="764.4" r="6.2"/><circle cx="648.6" cy="751.5" r="6.2"/><circle cx="650.7" cy="745.5" r="6.2"/>
<circle cx="652.7" cy="755.7" r="6.2"/><circle cx="654.8" cy="764.9" r="6.2"/><circle cx="657.4" cy="761.8" r="6.2"/><circle cx="659.9" cy="767.6" r="6.2"/><circle cx="662.0" cy="719.7" r="6.2"/><circle cx="664.0" cy="721.2" r="6.2"/><circle cx="666.1" cy="722.3" r="6.2"/><circle cx="668.1" cy="697.6" r="6.2"/>
<circle cx="670.7" cy="702.6" r="6.2"/><circle cx="672.3" cy="725.3" r="6.2"/><circle cx="674.3" cy="751.5" r="6.2"/><circle cx="676.4" cy="737.8" r="6.2"/><circle cx="678.4" cy="751.5" r="6.2"/><circle cx="681.0" cy="744.3" r="6.2"/><circle cx="683.3" cy="728.4" r="6.2"/><circle cx="685.6" cy="737.2" r="6.2"/>
<circle cx="688.2" cy="751.0" r="6.2"/><circle cx="690.3" cy="753.6" r="6.2"/><circle cx="692.3" cy="756.3" r="6.2"/><circle cx="694.4" cy="758.2" r="6.2"/><circle cx="696.4" cy="761.0" r="6.2"/><circle cx="698.5" cy="756.9" r="6.2"/><circle cx="701.1" cy="753.6" r="6.2"/><circle cx="703.1" cy="757.7" r="6.2"/>
<circle cx="705.2" cy="762.8" r="6.2"/><circle cx="707.2" cy="766.0" r="6.2"/><circle cx="709.3" cy="764.9" r="6.2"/><circle cx="711.2" cy="713.0" r="6.2"/><circle cx="713.7" cy="715.1" r="6.2"/><circle cx="716.3" cy="716.6" r="6.2"/><circle cx="718.9" cy="720.7" r="6.2"/><circle cx="722.0" cy="712.5" r="6.2"/>
<circle cx="724.5" cy="728.9" r="6.2"/><circle cx="726.6" cy="731.5" r="6.2"/><circle cx="728.7" cy="717.1" r="6.2"/><circle cx="730.7" cy="732.0" r="6.2"/><circle cx="732.5" cy="708.0" r="6.2"/><circle cx="734.0" cy="641.8" r="6.2"/><circle cx="736.0" cy="707.4" r="6.2"/><circle cx="738.0" cy="702.2" r="6.2"/>
<circle cx="739.6" cy="715.7" r="6.2"/><circle cx="741.2" cy="724.8" r="6.2"/><circle cx="743.6" cy="706.3" r="6.2"/><circle cx="745.6" cy="725.3" r="6.2"/><circle cx="747.7" cy="730.0" r="6.2"/><circle cx="749.2" cy="740.8" r="6.2"/><circle cx="751.3" cy="742.3" r="6.2"/><circle cx="752.8" cy="743.8" r="6.2"/>
<circle cx="754.9" cy="745.4" r="6.2"/><circle cx="756.9" cy="725.9" r="6.2"/><circle cx="759.0" cy="726.9" r="6.2"/><circle cx="761.0" cy="716.6" r="6.2"/><circle cx="763.1" cy="721.7" r="6.2"/><circle cx="765.2" cy="725.9" r="6.2"/><circle cx="767.2" cy="727.9" r="6.2"/><circle cx="769.3" cy="735.6" r="6.2"/>
<circle cx="771.8" cy="748.5" r="6.2"/><circle cx="773.7" cy="757.2" r="6.2"/><circle cx="775.9" cy="725.9" r="6.2"/><circle cx="778.0" cy="733.0" r="6.2"/><circle cx="780.1" cy="739.7" r="6.2"/><circle cx="782.1" cy="742.3" r="6.2"/><circle cx="784.2" cy="746.4" r="6.2"/><circle cx="787.3" cy="712.5" r="6.2"/>
<circle cx="789.3" cy="695.5" r="6.2"/><circle cx="791.9" cy="715.1" r="6.2"/><circle cx="794.5" cy="729.4" r="6.2"/><circle cx="797.0" cy="719.7" r="6.2"/><circle cx="800.1" cy="713.5" r="6.2"/><circle cx="801.7" cy="734.6" r="6.2"/><circle cx="803.7" cy="740.2" r="6.2"/><circle cx="805.8" cy="735.6" r="6.2"/>
<circle cx="807.8" cy="736.1" r="6.2"/><circle cx="809.9" cy="734.6" r="6.2"/><circle cx="812.5" cy="724.8" r="6.2"/><circle cx="814.8" cy="704.8" r="6.2"/><circle cx="816.6" cy="718.1" r="6.2"/><circle cx="819.1" cy="734.1" r="6.2"/><circle cx="821.2" cy="736.6" r="6.2"/><circle cx="823.3" cy="739.0" r="6.2"/>
<circle cx="825.3" cy="738.4" r="6.2"/><circle cx="827.2" cy="738.2" r="6.2"/><circle cx="830.3" cy="739.2" r="6.2"/><circle cx="833.4" cy="741.3" r="6.2"/><circle cx="836.5" cy="744.3" r="6.2"/><circle cx="838.5" cy="739.2" r="6.2"/><circle cx="840.6" cy="713.0" r="6.2"/><circle cx="842.6" cy="700.2" r="6.2"/>
<circle cx="845.2" cy="696.1" r="6.2"/><circle cx="847.2" cy="699.0" r="6.2"/><circle cx="849.3" cy="761.8" r="6.2"/><circle cx="851.4" cy="732.5" r="6.2"/><circle cx="853.4" cy="744.3" r="6.2"/><circle cx="856.0" cy="745.4" r="6.2"/><circle cx="857.5" cy="756.7" r="6.2"/><circle cx="859.6" cy="766.0" r="6.2"/>
<circle cx="862.2" cy="764.9" r="6.2"/><circle cx="864.7" cy="762.8" r="6.2"/><circle cx="867.3" cy="761.0" r="6.2"/><circle cx="869.4" cy="752.7" r="6.2"/><circle cx="871.0" cy="753.6" r="6.2"/><circle cx="873.0" cy="722.9" r="6.2"/><circle cx="875.5" cy="717.1" r="6.2"/><circle cx="877.6" cy="723.8" r="6.2"/>
<circle cx="879.5" cy="763.4" r="6.2"/><circle cx="881.7" cy="750.0" r="6.2"/><circle cx="884.3" cy="755.2" r="6.2"/><circle cx="886.3" cy="756.7" r="6.2"/><circle cx="888.4" cy="758.8" r="6.2"/><circle cx="891.0" cy="759.2" r="6.2"/><circle cx="893.0" cy="754.6" r="6.2"/><circle cx="895.1" cy="762.8" r="6.2"/>
<circle cx="897.0" cy="769.0" r="6.2"/><circle cx="899.2" cy="767.0" r="6.2"/><circle cx="901.7" cy="770.1" r="6.2"/><circle cx="903.6" cy="777.3" r="6.2"/><circle cx="905.9" cy="759.8" r="6.2"/><circle cx="907.9" cy="756.7" r="6.2"/><circle cx="909.5" cy="740.8" r="6.2"/><circle cx="911.5" cy="717.6" r="6.2"/>
<circle cx="913.9" cy="698.1" r="6.2"/><circle cx="916.7" cy="729.4" r="6.2"/><circle cx="918.5" cy="764.0" r="6.2"/><circle cx="920.3" cy="731.0" r="6.2"/><circle cx="922.3" cy="724.8" r="6.2"/><circle cx="924.4" cy="720.7" r="6.2"/><circle cx="926.9" cy="728.9" r="6.2"/><circle cx="929.0" cy="722.9" r="6.2"/>
<circle cx="932.1" cy="704.4" r="6.2"/><circle cx="934.0" cy="638.8" r="6.2"/><circle cx="936.0" cy="707.4" r="6.2"/><circle cx="938.3" cy="734.1" r="6.2"/><circle cx="940.0" cy="711.0" r="6.2"/><circle cx="942.0" cy="734.1" r="6.2"/><circle cx="944.1" cy="728.9" r="6.2"/><circle cx="946.2" cy="724.1" r="6.2"/>
<circle cx="948.2" cy="719.7" r="6.2"/><circle cx="950.6" cy="702.6" r="6.2"/><circle cx="953.4" cy="722.9" r="6.2"/><circle cx="955.2" cy="776.2" r="6.2"/><circle cx="957.5" cy="713.5" r="6.2"/><circle cx="960.1" cy="709.4" r="6.2"/><circle cx="962.1" cy="707.4" r="6.2"/><circle cx="964.2" cy="720.7" r="6.2"/>
<circle cx="966.7" cy="714.5" r="6.2"/><circle cx="968.8" cy="721.7" r="6.2"/><circle cx="971.4" cy="722.3" r="6.2"/><circle cx="973.4" cy="722.9" r="6.2"/><circle cx="975.5" cy="724.3" r="6.2"/><circle cx="977.0" cy="738.7" r="6.2"/><circle cx="979.0" cy="743.3" r="6.2"/><circle cx="981.1" cy="764.9" r="6.2"/>
<circle cx="983.2" cy="773.7" r="6.2"/><circle cx="985.8" cy="749.5" r="6.2"/><circle cx="987.8" cy="751.0" r="6.2"/><circle cx="990.4" cy="752.1" r="6.2"/><circle cx="992.4" cy="753.6" r="6.2"/><circle cx="994.5" cy="740.2" r="6.2"/><circle cx="996.6" cy="738.7" r="6.2"/><circle cx="999.1" cy="736.1" r="6.2"/>
<circle cx="1001.2" cy="737.2" r="6.2"/><circle cx="1003.2" cy="735.1" r="6.2"/><circle cx="1005.8" cy="732.0" r="6.2"/><circle cx="1008.4" cy="721.2" r="6.2"/><circle cx="1011.0" cy="724.8" r="6.2"/><circle cx="1013.0" cy="722.9" r="6.2"/><circle cx="1015.6" cy="717.1" r="6.2"/><circle cx="1017.6" cy="722.3" r="6.2"/>
<circle cx="1019.7" cy="740.8" r="6.2"/><circle cx="1021.7" cy="774.2" r="6.2"/><circle cx="1024.3" cy="723.8" r="6.2"/><circle cx="1026.9" cy="745.4" r="6.2"/><circle cx="1028.7" cy="777.3" r="6.2"/><circle cx="1031.0" cy="717.6" r="6.2"/><circle cx="1033.6" cy="715.6" r="6.2"/><circle cx="1035.6" cy="713.0" r="6.2"/>
<circle cx="1037.7" cy="717.6" r="6.2"/><circle cx="1040.3" cy="721.2" r="6.2"/><circle cx="1042.3" cy="723.3" r="6.2"/><circle cx="1044.9" cy="725.9" r="6.2"/><circle cx="1047.5" cy="727.9" r="6.2"/><circle cx="1049.5" cy="730.0" r="6.2"/><circle cx="1052.1" cy="730.6" r="6.2"/><circle cx="1054.1" cy="744.3" r="6.2"/>
<circle cx="1056.2" cy="743.3" r="6.2"/>
</g>
</g>
</svg>
</body></html>
